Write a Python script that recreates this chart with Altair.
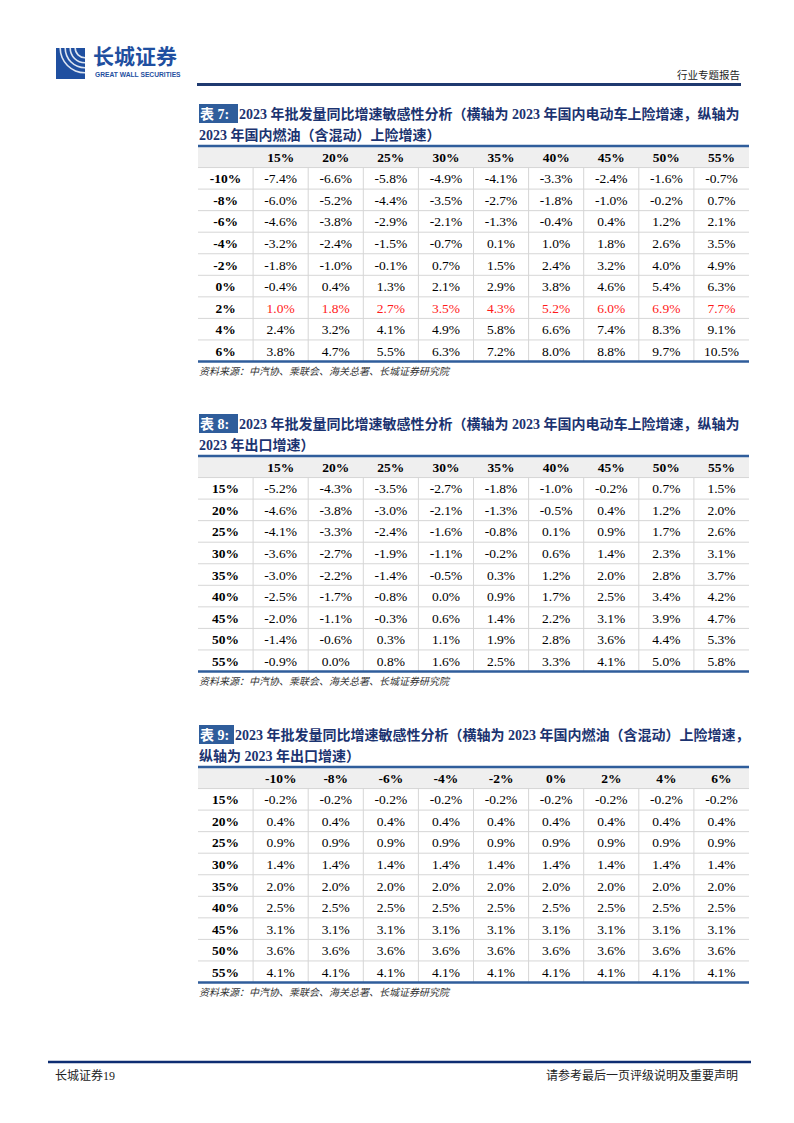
import altair as alt
import pandas as pd

# ---------------- data ----------------
T7_TAG = "表 7:"
T7_TITLE_1 = "2023 年批发量同比增速敏感性分析（横轴为 2023 年国内电动车上险增速，纵轴为"
T7_TITLE_2 = "2023 年国内燃油（含混动）上险增速）"
T7_COLS = ["15%", "20%", "25%", "30%", "35%", "40%", "45%", "50%", "55%"]
T7_ROWS = ["-10%", "-8%", "-6%", "-4%", "-2%", "0%", "2%", "4%", "6%"]
T7_VALUES = [
    [-7.4, -6.6, -5.8, -4.9, -4.1, -3.3, -2.4, -1.6, -0.7],
    [-6.0, -5.2, -4.4, -3.5, -2.7, -1.8, -1.0, -0.2, 0.7],
    [-4.6, -3.8, -2.9, -2.1, -1.3, -0.4, 0.4, 1.2, 2.1],
    [-3.2, -2.4, -1.5, -0.7, 0.1, 1.0, 1.8, 2.6, 3.5],
    [-1.8, -1.0, -0.1, 0.7, 1.5, 2.4, 3.2, 4.0, 4.9],
    [-0.4, 0.4, 1.3, 2.1, 2.9, 3.8, 4.6, 5.4, 6.3],
    [1.0, 1.8, 2.7, 3.5, 4.3, 5.2, 6.0, 6.9, 7.7],
    [2.4, 3.2, 4.1, 4.9, 5.8, 6.6, 7.4, 8.3, 9.1],
    [3.8, 4.7, 5.5, 6.3, 7.2, 8.0, 8.8, 9.7, 10.5],
]
T7_HIGHLIGHT = "2%"

T8_TAG = "表 8:"
T8_TITLE_1 = "2023 年批发量同比增速敏感性分析（横轴为 2023 年国内电动车上险增速，纵轴为"
T8_TITLE_2 = "2023 年出口增速）"
T8_COLS = ["15%", "20%", "25%", "30%", "35%", "40%", "45%", "50%", "55%"]
T8_ROWS = ["15%", "20%", "25%", "30%", "35%", "40%", "45%", "50%", "55%"]
T8_VALUES = [
    [-5.2, -4.3, -3.5, -2.7, -1.8, -1.0, -0.2, 0.7, 1.5],
    [-4.6, -3.8, -3.0, -2.1, -1.3, -0.5, 0.4, 1.2, 2.0],
    [-4.1, -3.3, -2.4, -1.6, -0.8, 0.1, 0.9, 1.7, 2.6],
    [-3.6, -2.7, -1.9, -1.1, -0.2, 0.6, 1.4, 2.3, 3.1],
    [-3.0, -2.2, -1.4, -0.5, 0.3, 1.2, 2.0, 2.8, 3.7],
    [-2.5, -1.7, -0.8, 0.0, 0.9, 1.7, 2.5, 3.4, 4.2],
    [-2.0, -1.1, -0.3, 0.6, 1.4, 2.2, 3.1, 3.9, 4.7],
    [-1.4, -0.6, 0.3, 1.1, 1.9, 2.8, 3.6, 4.4, 5.3],
    [-0.9, 0.0, 0.8, 1.6, 2.5, 3.3, 4.1, 5.0, 5.8],
]

T9_TAG = "表 9:"
T9_TITLE_1 = "2023 年批发量同比增速敏感性分析（横轴为 2023 年国内燃油（含混动）上险增速，"
T9_TITLE_2 = "纵轴为 2023 年出口增速）"
T9_COLS = ["-10%", "-8%", "-6%", "-4%", "-2%", "0%", "2%", "4%", "6%"]
T9_ROWS = ["15%", "20%", "25%", "30%", "35%", "40%", "45%", "50%", "55%"]
T9_VALUES = [
    [-0.2, -0.2, -0.2, -0.2, -0.2, -0.2, -0.2, -0.2, -0.2],
    [0.4, 0.4, 0.4, 0.4, 0.4, 0.4, 0.4, 0.4, 0.4],
    [0.9, 0.9, 0.9, 0.9, 0.9, 0.9, 0.9, 0.9, 0.9],
    [1.4, 1.4, 1.4, 1.4, 1.4, 1.4, 1.4, 1.4, 1.4],
    [2.0, 2.0, 2.0, 2.0, 2.0, 2.0, 2.0, 2.0, 2.0],
    [2.5, 2.5, 2.5, 2.5, 2.5, 2.5, 2.5, 2.5, 2.5],
    [3.1, 3.1, 3.1, 3.1, 3.1, 3.1, 3.1, 3.1, 3.1],
    [3.6, 3.6, 3.6, 3.6, 3.6, 3.6, 3.6, 3.6, 3.6],
    [4.1, 4.1, 4.1, 4.1, 4.1, 4.1, 4.1, 4.1, 4.1],
]

SOURCE = "资料来源：中汽协、乘联会、海关总署、长城证券研究院"
HEADER_RIGHT = "行业专题报告"
LOGO_CN = "长城证券"
LOGO_EN = "GREAT WALL SECURITIES"
FOOTER_LEFT = "长城证券19"
FOOTER_RIGHT = "请参考最后一页评级说明及重要声明"

# ---------------- style / layout ----------------
SERIF = "Liberation Serif, Noto Sans CJK SC"
CJK = "Noto Sans CJK SC"
NAVY = "#1B3370"
BLUE = "#2F5D9B"
GRID = "#D6D6D6"
HEAD_BG = "#EFEFEF"
RED = "#FF1A1A"
W, H = 778, 1107
X0, X1 = 190, 741
ROW_H = 21.55


def fmt(v):
    return f"{v:.1f}%"


def table_layer(tag, t1, t2, cols, rows, values, highlight, top, t1_x, box_r):
    nc, nr = len(cols), len(rows)
    xs = alt.Scale(domain=[-0.5, nc + 0.5], range=[X0, X1], nice=False, zero=False)
    ys = alt.Scale(domain=[-0.5, nr + 0.5], range=[top, top + ROW_H * (nr + 1)],
                   nice=False, zero=False)

    def X(f):
        return alt.X(f, type="quantitative", scale=xs, axis=None)

    def Y(f):
        return alt.Y(f, type="quantitative", scale=ys, axis=None)

    head_bg = alt.Chart(pd.DataFrame({"x": [-0.5], "x2": [nc + 0.5], "y": [-0.5], "y2": [0.5]})
                        ).mark_rect(color=HEAD_BG).encode(
        x=X("x"), x2="x2:Q", y=Y("y"), y2="y2:Q")

    hl = alt.Chart(pd.DataFrame({"y": [i + 0.5 for i in range(nr)],
                                 "x": [-0.5] * nr, "x2": [nc + 0.5] * nr})
                   ).mark_rule(color=GRID, strokeWidth=1).encode(
        x=X("x"), x2="x2:Q", y=Y("y"))

    vl = alt.Chart(pd.DataFrame({"x": [j + 0.5 for j in range(nc)],
                                 "y": [0.5] * nc, "y2": [nr + 0.5] * nc})
                   ).mark_rule(color=GRID, strokeWidth=1).encode(
        x=X("x"), y=Y("y"), y2="y2:Q")

    thick = alt.Chart(pd.DataFrame({"y": [-0.5, nr + 0.5], "x": [-0.5, -0.5],
                                    "x2": [nc + 0.5, nc + 0.5]})
                      ).mark_rule(color=BLUE, strokeWidth=2.3).encode(
        x=X("x"), x2="x2:Q", y=Y("y"))

    bold_rec = [{"c": j + 1, "r": 0, "label": c} for j, c in enumerate(cols)]
    bold_rec += [{"c": 0, "r": i + 1, "label": r} for i, r in enumerate(rows)]
    bold_txt = alt.Chart(pd.DataFrame(bold_rec)).mark_text(
        font=SERIF, fontSize=13.5, fontWeight="bold", color="#000000", baseline="middle", dy=1
    ).encode(x=X("c"), y=Y("r"), text="label:N")

    val_rec = []
    for i, r in enumerate(rows):
        for j, _c in enumerate(cols):
            val_rec.append({"c": j + 1, "r": i + 1, "label": fmt(values[i][j]),
                            "color": RED if r == highlight else "#000000"})
    val_txt = alt.Chart(pd.DataFrame(val_rec)).mark_text(
        font=SERIF, fontSize=13.5, baseline="middle", dy=1
    ).encode(x=X("c"), y=Y("r"), text="label:N",
             color=alt.Color("color:N", scale=None))

    box = alt.Chart(pd.DataFrame({"y": [-2.45], "y2": [-1.57]})).mark_rect(color=BLUE).encode(
        x=alt.value(191), x2=alt.value(box_r), y=Y("y"), y2="y2:Q")
    tag_txt = alt.Chart(pd.DataFrame({"y": [-2], "t": [tag]})).mark_text(
        font=SERIF, fontSize=14, fontWeight="bold", color="#FFFFFF", align="left",
        baseline="middle", dy=1).encode(x=alt.value(192), y=Y("y"), text="t:N")
    t1_txt = alt.Chart(pd.DataFrame({"y": [-2], "t": [t1]})).mark_text(
        font=SERIF, fontSize=14, fontWeight="bold", color=NAVY, align="left",
        baseline="middle", dy=1).encode(x=alt.value(t1_x), y=Y("y"), text="t:N")
    t2_txt = alt.Chart(pd.DataFrame({"y": [-1], "t": [t2]})).mark_text(
        font=SERIF, fontSize=14, fontWeight="bold", color=NAVY, align="left",
        baseline="middle", dy=1).encode(x=alt.value(191), y=Y("y"), text="t:N")
    src = alt.Chart(pd.DataFrame({"y": [nr + 1], "t": [SOURCE]})).mark_text(
        font=CJK, fontSize=10, fontStyle="italic", color="#333333", align="left",
        baseline="middle").encode(x=alt.value(191), y=Y("y"), text="t:N")

    return alt.layer(head_bg, hl, vl, thick, bold_txt, val_txt, box, tag_txt, t1_txt, t2_txt, src)


t7 = table_layer(T7_TAG, T7_TITLE_1, T7_TITLE_2, T7_COLS, T7_ROWS, T7_VALUES, T7_HIGHLIGHT,
                 138, 231, 230)
t8 = table_layer(T8_TAG, T8_TITLE_1, T8_TITLE_2, T8_COLS, T8_ROWS, T8_VALUES, None,
                 448, 231, 230)
t9 = table_layer(T9_TAG, T9_TITLE_1, T9_TITLE_2, T9_COLS, T9_ROWS, T9_VALUES, None,
                 759, 227, 226)

one = pd.DataFrame({"k": [0]})

# page header
logo_box = alt.Chart(one).mark_rect(color="#1F4FA0").encode(
    x=alt.value(48), x2=alt.value(77), y=alt.value(40), y2=alt.value(71))
arcs = [
    alt.Chart(one).mark_arc(theta=3.1416, theta2=4.7124, radius=r, radius2=r + 1.6,
                            color="#FFFFFF", opacity=0.85).encode(
        x=alt.value(77), y=alt.value(40))
    for r in (9, 14, 19, 24)
]
logo_cn = alt.Chart(pd.DataFrame({"t": [LOGO_CN]})).mark_text(
    font=CJK, fontSize=21, fontWeight="bold", color="#1F4FA0", align="left",
    baseline="middle").encode(x=alt.value(85), y=alt.value(50), text="t:N")
logo_en = alt.Chart(pd.DataFrame({"t": [LOGO_EN]})).mark_text(
    font="Liberation Sans", fontSize=6.7, fontWeight="bold", color="#1F4FA0", align="left",
    baseline="middle").encode(x=alt.value(87), y=alt.value(67), text="t:N")
head_rule = alt.Chart(one).mark_rule(color="#1F3A70", strokeWidth=3).encode(
    x=alt.value(189), x2=alt.value(733), y=alt.value(76.5))
head_txt = alt.Chart(pd.DataFrame({"t": [HEADER_RIGHT]})).mark_text(
    font=CJK, fontSize=10.5, color="#222222", align="right", baseline="middle").encode(
    x=alt.value(732), y=alt.value(68), text="t:N")

# page footer
foot_rule = alt.Chart(one).mark_rule(color="#0D2D72", strokeWidth=2.5).encode(
    x=alt.value(40), x2=alt.value(743), y=alt.value(1054))
foot_l = alt.Chart(pd.DataFrame({"t": [FOOTER_LEFT]})).mark_text(
    font=SERIF, fontSize=12, color="#222222", align="left", baseline="middle").encode(
    x=alt.value(47), y=alt.value(1068), text="t:N")
foot_r = alt.Chart(pd.DataFrame({"t": [FOOTER_RIGHT]})).mark_text(
    font=CJK, fontSize=12, color="#222222", align="right", baseline="middle").encode(
    x=alt.value(730), y=alt.value(1068), text="t:N")

chart = alt.layer(
    logo_box, *arcs, logo_cn, logo_en, head_rule, head_txt,
    t7, t8, t9,
    foot_rule, foot_l, foot_r,
).resolve_scale(y="independent").properties(
    width=W, height=H, padding=0, autosize=alt.AutoSizeParams(type="none")
).configure_view(stroke=None)

chart.save("out.html", embed_options={"renderer": "svg", "actions": False})
